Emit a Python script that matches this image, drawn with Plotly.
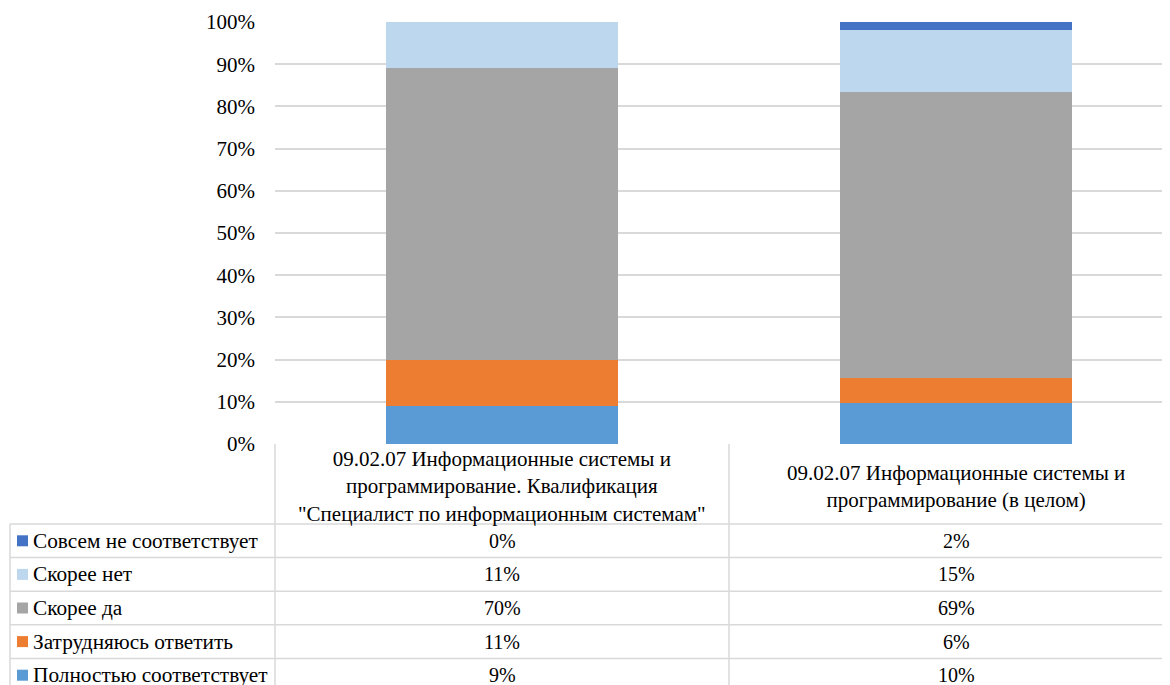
import plotly.graph_objects as go

categories = [
    '09.02.07 Информационные системы и<br>программирование. Квалификация<br>"Специалист по информационным системам"',
    '09.02.07 Информационные системы и<br>программирование (в целом)',
]
series_names = ["Полностью соответствует", "Затрудняюсь ответить", "Скорее да",
                "Скорее нет", "Совсем не соответствует"]
polnostyu = [9, 10]
zatrudnyayus = [11, 6]
skoree_da = [70, 69]
skoree_net = [11, 15]
sovsem_ne = [0, 2]
series_values = [polnostyu, zatrudnyayus, skoree_da, skoree_net, sovsem_ne]
colors = ["#5B9BD5", "#ED7D31", "#A5A5A5", "#BDD7EE", "#4472C4"]
tick_vals = [0, 10, 20, 30, 40, 50, 60, 70, 80, 90, 100]
tick_text = [f"{v}%" for v in tick_vals]

FONT = "Liberation Serif"
FS_TICK = 21
FS_HEAD = 21
FS_LEG = 21.3
FS_VAL = 20
OFF = 8  # page body margin
W, H = 1170 - OFF, 685 - OFF
L, T = 275 - OFF, 22 - OFF
PB = 444 - OFF  # plot bottom in figure px
R = 0
B = H - PB
PW, PH = W - L - R, PB - T

fig = go.Figure()
xs = [0, 1]
for name, vals, col in zip(series_names, series_values, colors):
    fig.add_trace(go.Bar(x=xs, y=vals, name=name, marker=dict(color=col, line=dict(width=0)),
                         width=0.513, hoverinfo="skip"))

# helpers take screen pixel coordinates
def px2x(px):
    return (px - OFF - L) / PW

def py2y(py):
    return (PB - (py - OFF)) / PH

shapes = []
annotations = []
grid = "#d9d9d9"
lw = 1.5
col_left = 10
col_a = 275
col_b = 729
col_c = 1183
top = 444
head_bot = 524
row_h = 33.6
rows_y = [head_bot + i * row_h for i in range(6)]

def line(x0, y0, x1, y1):
    shapes.append(dict(type="line", xref="paper", yref="paper",
                       x0=px2x(x0), y0=py2y(y0), x1=px2x(x1), y1=py2y(y1),
                       line=dict(color=grid, width=lw), layer="below"))

line(col_a, top, col_a, 700)
line(col_b, top, col_b, 700)
line(col_left, head_bot, col_left, 700)
for y in rows_y:
    line(col_left, y, col_c, y)

centers = [(col_a + col_b) / 2, (col_b + col_c) / 2]
for c, cat in zip(centers, categories):
    annotations.append(dict(xref="paper", yref="paper", x=px2x(c), y=py2y((top + head_bot) / 2 + 2),
                            text=cat, showarrow=False, xanchor="center", yanchor="middle",
                            font=dict(family=FONT, size=FS_HEAD, color="#000")))

display_order = list(range(len(series_names)))[::-1]
for r, si in enumerate(display_order):
    yc = rows_y[r] + row_h / 2
    shapes.append(dict(type="rect", xref="paper", yref="paper",
                       x0=px2x(17), x1=px2x(28), y0=py2y(yc - 5.5), y1=py2y(yc + 5.5),
                       fillcolor=colors[si], line=dict(width=0)))
    annotations.append(dict(xref="paper", yref="paper", x=px2x(31), y=py2y(yc),
                            text=series_names[si], showarrow=False, xanchor="left", yanchor="middle",
                            font=dict(family=FONT, size=FS_LEG, color="#000")))
    for c, v in zip(centers, series_values[si]):
        annotations.append(dict(xref="paper", yref="paper", x=px2x(c), y=py2y(yc),
                                text=f"{v}%", showarrow=False, xanchor="center", yanchor="middle",
                                font=dict(family=FONT, size=FS_VAL, color="#000")))

fig.update_layout(
    width=W, height=H,
    margin=dict(l=L, r=R, t=T, b=B, autoexpand=False),
    barmode="stack", barnorm="percent",
    showlegend=False,
    font=dict(family=FONT, size=FS_VAL, color="#000"),
    plot_bgcolor="white", paper_bgcolor="white",
    xaxis=dict(range=[-0.5, -0.5 + PW / 454], showticklabels=False, showgrid=False,
               zeroline=False, showline=False, ticks=""),
    yaxis=dict(range=[0, 100], tickvals=tick_vals, ticktext=tick_text,
               showgrid=True, gridcolor=grid, gridwidth=lw, zeroline=False,
               showline=False, ticks="", ticklabelstandoff=19,
               tickfont=dict(family=FONT, size=FS_TICK, color="#000")),
    shapes=shapes, annotations=annotations,
)

fig.write_html("out.html")
